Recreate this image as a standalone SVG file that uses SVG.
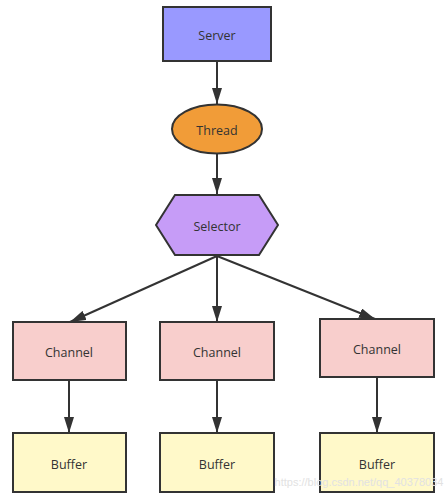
<svg xmlns="http://www.w3.org/2000/svg" width="447" height="501" viewBox="0 0 447 501">
<defs>
<style>
.n{stroke:#333;stroke-width:2}
.t{font-family:"Open Sans","Noto Sans","DejaVu Sans",sans-serif;font-size:12.5px;fill:#333;text-anchor:middle;dominant-baseline:central}
.c{stroke:#333;stroke-width:2;fill:none;marker-end:url(#ah)}
.srv{fill:#9999ff}.thr{fill:#f19c38}.sel{fill:#c69cf7}.ch{fill:#f8cecc}.buf{fill:#fff9c9}
</style>
<marker id="ah" viewBox="0 0 16 10" refX="16" refY="5" markerWidth="8" markerHeight="5" markerUnits="strokeWidth" orient="auto">
<path d="M0,0 L16,5 L0,10 z" fill="#333"/>
</marker>
</defs>
<rect width="447" height="501" fill="#fff"/>
<g id="connectors">
<line class="c" x1="217" y1="61" x2="217" y2="104"/>
<line class="c" x1="217" y1="154" x2="217" y2="194"/>
<line class="c" x1="217" y1="256" x2="70" y2="322"/>
<line class="c" x1="217" y1="256" x2="217" y2="322"/>
<line class="c" x1="217" y1="256" x2="375" y2="319"/>
<line class="c" x1="69" y1="380" x2="69" y2="433"/>
<line class="c" x1="217" y1="380" x2="217" y2="433"/>
<line class="c" x1="377" y1="377" x2="377" y2="433"/>
</g>
<g id="server"><rect class="n srv" x="163" y="7" width="108" height="54"/><text class="t" x="217" y="35">Server</text></g>
<g id="thread"><ellipse class="n thr" cx="217" cy="129" rx="45" ry="24.5"/><text class="t" x="217" y="130">Thread</text></g>
<g id="selector"><polygon class="n sel" points="156,225 175,195 259,195 278,225 259,255 175,255"/><text class="t" x="217" y="226">Selector</text></g>
<g id="channel1"><rect class="n ch" x="13" y="322" width="113" height="58"/><text class="t" x="69" y="352">Channel</text></g>
<g id="channel2"><rect class="n ch" x="160" y="322" width="114" height="58"/><text class="t" x="217" y="352">Channel</text></g>
<g id="channel3"><rect class="n ch" x="320" y="319" width="114" height="58"/><text class="t" x="377" y="349">Channel</text></g>
<g id="buffer1"><rect class="n buf" x="13" y="433" width="113" height="59"/><text class="t" x="69" y="464">Buffer</text></g>
<g id="buffer2"><rect class="n buf" x="160" y="433" width="114" height="59"/><text class="t" x="217" y="464">Buffer</text></g>
<g id="buffer3"><rect class="n buf" x="320" y="433" width="114" height="59"/><text class="t" x="377" y="464">Buffer</text></g>
<text x="359" y="486" font-family="'Liberation Sans',sans-serif" font-size="11" fill="#e2e2e2" text-anchor="middle">https://blog.csdn.net/qq_40378034</text>
</svg>
